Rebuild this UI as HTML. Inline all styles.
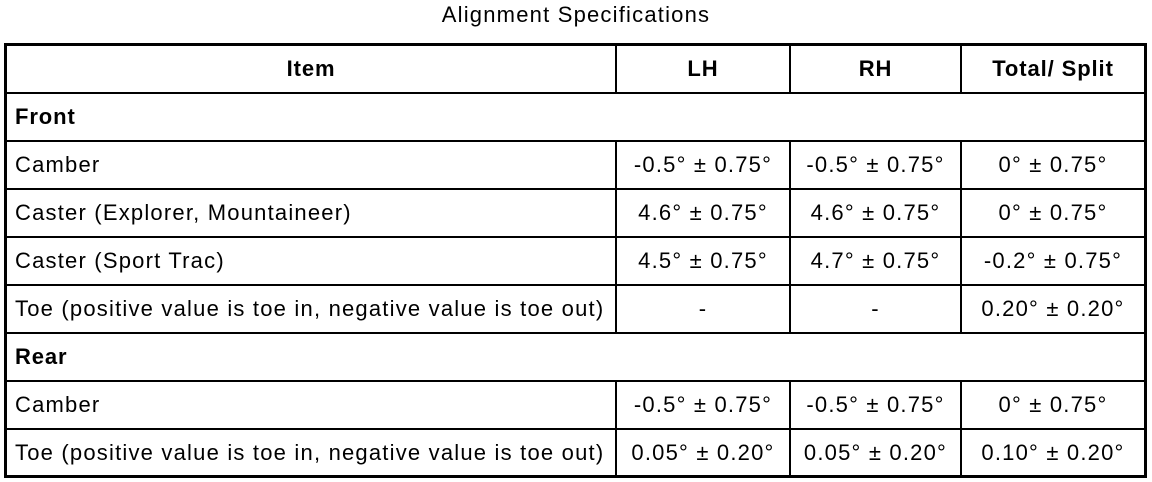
<!DOCTYPE html>
<html><head><style>
body{margin:0;width:1152px;height:482px;background:#fff;position:relative;font-family:"Liberation Sans",Arial,sans-serif;color:#000;overflow:hidden}
.t{position:absolute;top:2px;left:0;width:1152px;text-align:center;font-size:22px;letter-spacing:1.2px}
.box{position:absolute;left:4px;top:43px;width:1137px;height:429px;border:3px solid #000}
.h{position:absolute;height:2px;background:#000;left:7px;width:1137px}
.v{position:absolute;width:2px;background:#000}
.c{position:absolute;font-size:22px;letter-spacing:1.2px;height:48px;line-height:48px;white-space:nowrap}
.b{font-weight:bold;letter-spacing:0.9px}
.ctr{text-align:center}
</style></head><body>
<div class="t">Alignment Specifications</div>
<div class="box"></div>
<div class="h" style="top:92px"></div>
<div class="h" style="top:140px"></div>
<div class="h" style="top:188px"></div>
<div class="h" style="top:236px"></div>
<div class="h" style="top:284px"></div>
<div class="h" style="top:332px"></div>
<div class="h" style="top:380px"></div>
<div class="h" style="top:428px"></div>
<div class="v" style="left:615px;top:46px;height:47px"></div>
<div class="v" style="left:789px;top:46px;height:47px"></div>
<div class="v" style="left:960px;top:46px;height:47px"></div>
<div class="v" style="left:615px;top:140px;height:192px"></div>
<div class="v" style="left:789px;top:140px;height:192px"></div>
<div class="v" style="left:960px;top:140px;height:192px"></div>
<div class="v" style="left:615px;top:380px;height:95px"></div>
<div class="v" style="left:789px;top:380px;height:95px"></div>
<div class="v" style="left:960px;top:380px;height:95px"></div>

<div class="c b ctr" style="left:7px;width:608px;top:45px">Item</div>
<div class="c b ctr" style="left:617px;width:172px;top:45px">LH</div>
<div class="c b ctr" style="left:791px;width:169px;top:45px">RH</div>
<div class="c b ctr" style="left:962px;width:182px;top:45px">Total/ Split</div>

<div class="c b" style="left:15px;top:93px">Front</div>

<div class="c" style="left:15px;top:141px">Camber</div>
<div class="c ctr" style="left:617px;width:172px;top:141px">-0.5° ± 0.75°</div>
<div class="c ctr" style="left:791px;width:169px;top:141px">-0.5° ± 0.75°</div>
<div class="c ctr" style="left:962px;width:182px;top:141px">0° ± 0.75°</div>

<div class="c" style="left:15px;top:189px">Caster (Explorer, Mountaineer)</div>
<div class="c ctr" style="left:617px;width:172px;top:189px">4.6° ± 0.75°</div>
<div class="c ctr" style="left:791px;width:169px;top:189px">4.6° ± 0.75°</div>
<div class="c ctr" style="left:962px;width:182px;top:189px">0° ± 0.75°</div>

<div class="c" style="left:15px;top:237px">Caster (Sport Trac)</div>
<div class="c ctr" style="left:617px;width:172px;top:237px">4.5° ± 0.75°</div>
<div class="c ctr" style="left:791px;width:169px;top:237px">4.7° ± 0.75°</div>
<div class="c ctr" style="left:962px;width:182px;top:237px">-0.2° ± 0.75°</div>

<div class="c" style="left:15px;top:285px">Toe (positive value is toe in, negative value is toe out)</div>
<div class="c ctr" style="left:617px;width:172px;top:285px">-</div>
<div class="c ctr" style="left:791px;width:169px;top:285px">-</div>
<div class="c ctr" style="left:962px;width:182px;top:285px">0.20° ± 0.20°</div>

<div class="c b" style="left:15px;top:333px">Rear</div>

<div class="c" style="left:15px;top:381px">Camber</div>
<div class="c ctr" style="left:617px;width:172px;top:381px">-0.5° ± 0.75°</div>
<div class="c ctr" style="left:791px;width:169px;top:381px">-0.5° ± 0.75°</div>
<div class="c ctr" style="left:962px;width:182px;top:381px">0° ± 0.75°</div>

<div class="c" style="left:15px;top:429px">Toe (positive value is toe in, negative value is toe out)</div>
<div class="c ctr" style="left:617px;width:172px;top:429px">0.05° ± 0.20°</div>
<div class="c ctr" style="left:791px;width:169px;top:429px">0.05° ± 0.20°</div>
<div class="c ctr" style="left:962px;width:182px;top:429px">0.10° ± 0.20°</div>
</body></html>
